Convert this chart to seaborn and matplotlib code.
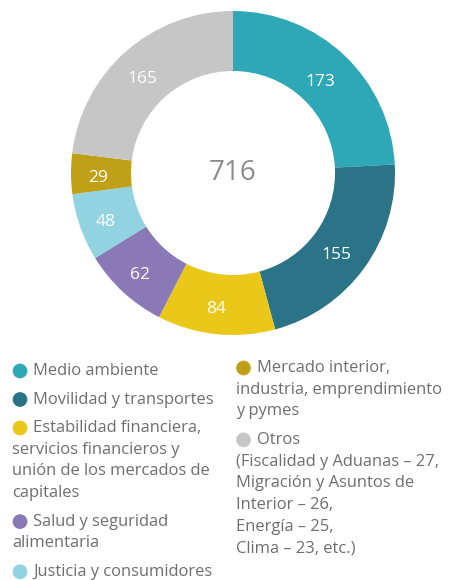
import seaborn as sns
import matplotlib.pyplot as plt
import numpy as np

# Data
values = [173, 155, 84, 62, 48, 29, 165]
total_label = "716"
colors = ['#2EA8B6', '#2B7387', '#E9C81A', '#8A79B7', '#92D3E1', '#BFA017', '#C6C6C6']
labels = [
    "Medio ambiente",
    "Movilidad y transportes",
    "Estabilidad financiera,\nservicios financieros y\nunión de los mercados de\ncapitales",
    "Salud y seguridad\nalimentaria",
    "Justicia y consumidores",
    "Mercado interior,\nindustria, emprendimiento\ny pymes",
    "Otros\n(Fiscalidad y Aduanas – 27,\nMigración y Asuntos de\nInterior – 26,\nEnergía – 25,\nClima – 23, etc.)",
]

sns.set_theme(style="white")
plt.rcParams['font.family'] = ['Open Sans', 'DejaVu Sans']

W, H = 452, 580
fig = plt.figure(figsize=(W / 100, H / 100), dpi=100)

# donut
cx, cy, R = 233, 173, 162
ax = fig.add_axes([(cx - R) / W, 1 - (cy + R) / H, 2 * R / W, 2 * R / H])
width = 1 - 102 / 162
wedges, _ = ax.pie(values, colors=colors, startangle=90, counterclock=False,
                   radius=1, wedgeprops=dict(width=width, edgecolor='none'))
ax.set_xlim(-1, 1)
ax.set_ylim(-1, 1)
ax.set_aspect('equal')
ax.axis('off')

mid_r = 1 - width / 2
for w, v in zip(wedges, values):
    ang = np.deg2rad((w.theta1 + w.theta2) / 2)
    ax.text(mid_r * np.cos(ang) - 0.02, mid_r * np.sin(ang) - 0.03, str(v), ha='center',
            va='center', color='white', fontsize=12.5)
ax.text(0, 0, total_label, ha='center', va='center', color='#8C8C8C', fontsize=20)

# legend (manual, two columns)
lax = fig.add_axes([0, 0, 1, 1])
lax.set_xlim(0, W)
lax.set_ylim(H, 0)
lax.axis('off')

line_h = 21.7
gap = 6.8
cols = [(20, 33, 12, [0, 1, 2, 3, 4], 371), (243.5, 257, 236, [5, 6], 368)]
for dot_x, text_x, wrap_x, idxs, y0 in cols:
    y = y0
    for i in idxs:
        parts = labels[i].split("\n")
        lax.scatter([dot_x], [y], s=112, color=colors[i], edgecolors='none')
        lax.text(text_x, y, parts[0], ha='left', va='center', color='#6E6E6E', fontsize=11.9)
        for k, p in enumerate(parts[1:], start=1):
            lax.text(wrap_x, y + k * line_h, p, ha='left', va='center', color='#6E6E6E',
                     fontsize=11.9)
        y += len(parts) * line_h + gap

fig.savefig("out.png", dpi=100, facecolor='white')
